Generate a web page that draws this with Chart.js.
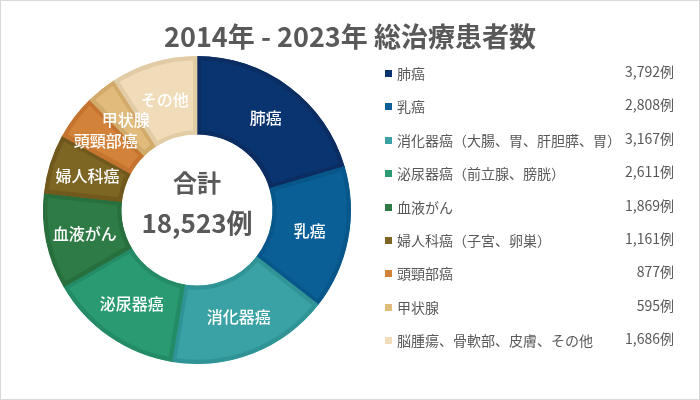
<!DOCTYPE html>
<html lang="ja">
<head>
<meta charset="UTF-8">
<title>総治療患者数</title>
<script src="https://cdn.jsdelivr.net/npm/chart.js"></script>
<style>
  html, body { margin: 0; padding: 0; background: #fff; }
  body { font-family: "Noto Sans CJK JP", "Noto Sans", sans-serif; color: #595959; }
  #wrap { position: relative; width: 700px; height: 400px; box-sizing: border-box; border: 1px solid #d9d9d9; overflow: hidden; }
  #chart { position: absolute; left: -1px; top: -1px; }
  #title { position: absolute; left: 0; right: 0; top: 15px; text-align: center; font-size: 27px; line-height: 40px; font-weight: bold; }
  #center { position: absolute; left: 126px; width: 140px; top: 163px; text-align: center; font-weight: bold; }
  #center .a { font-size: 24px; line-height: 36px; }
  #center .b { font-size: 26px; line-height: 44px; }
  #legend { position: absolute; left: 383px; top: 60px; width: 290px; }
  .row { position: relative; height: 33.4px; font-size: 14px; line-height: 24px; }
  .row .sw { position: absolute; left: 1px; top: 9px; width: 7px; height: 7px; }
  .row .lb { position: absolute; left: 13px; top: 0; white-space: nowrap; }
  .row .v { position: absolute; right: 0; top: -2px; }
</style>
</head>
<body>
<div id="wrap">
  <canvas id="chart" width="700" height="400"></canvas>
  <div id="title">2014年 - 2023年 総治療患者数</div>
  <div id="center"><div class="a">合計</div><div class="b" id="total"></div></div>
  <div id="legend"></div>
</div>
<script>
// データ
const shortLabels = ['肺癌', '乳癌', '消化器癌', '泌尿器癌', '血液がん', '婦人科癌', '頭頸部癌', '甲状腺', 'その他'];
const legendLabels = ['肺癌', '乳癌', '消化器癌（大腸、胃、肝胆膵、胃）', '泌尿器癌（前立腺、膀胱）', '血液がん',
                      '婦人科癌（子宮、卵巣）', '頭頸部癌', '甲状腺', '脳腫瘍、骨軟部、皮膚、その他'];
const patients = [3792, 2808, 3167, 2611, 1869, 1161, 877, 595, 1686];
const totalPatients = 18523;

const fillColors = ['#0a3470', '#0a6096', '#3aa2a4', '#2a9a72', '#2e7b45', '#7d6524', '#d3823a', '#e0bb7c', '#f0dcb8'];
const edgeColors = ['#0b2d62', '#08578a', '#309496', '#238c66', '#276f3c', '#71591e', '#c4742f', '#d2aa6a', '#e2cca6'];

// 凡例 (HTML)
const legend = document.getElementById('legend');
legendLabels.forEach((name, i) => {
    legend.innerHTML += `
        <div class="row">
            <span class="sw" style="background:${fillColors[i]}"></span>
            <span class="lb">${name}</span>
            <span class="v">${patients[i].toLocaleString('en-US')}例</span>
        </div>`;
});
document.getElementById('total').textContent = totalPatients.toLocaleString('en-US') + '例';

// 扇形の中にラベルを描く
const sliceLabels = {
    id: 'sliceLabels',
    afterDatasetsDraw(chart) {
        const ctx = chart.ctx;
        const arcs = chart.getDatasetMeta(0).data;
        ctx.save();
        ctx.fillStyle = '#ffffff';
        ctx.font = '500 16px "Noto Sans CJK JP"';
        ctx.textAlign = 'center';
        ctx.textBaseline = 'middle';
        arcs.forEach((arc, i) => {
            const p = arc.tooltipPosition();
            ctx.fillText(shortLabels[i], p.x, p.y);
        });
        ctx.restore();
    }
};

new Chart(document.getElementById('chart'), {
    type: 'doughnut',
    data: {
        labels: shortLabels,
        datasets: [{
            data: patients,
            backgroundColor: fillColors,
            borderColor: edgeColors,
            borderWidth: 4,
            borderAlign: 'inner',
            hoverOffset: 0
        }]
    },
    options: {
        responsive: false,
        animation: false,
        cutout: '49%',
        layout: { padding: { left: 43, top: 56, right: 349, bottom: 36 } },
        plugins: {
            legend: { display: false },
            tooltip: { enabled: false }
        }
    },
    plugins: [sliceLabels]
});
</script>
</body>
</html>
